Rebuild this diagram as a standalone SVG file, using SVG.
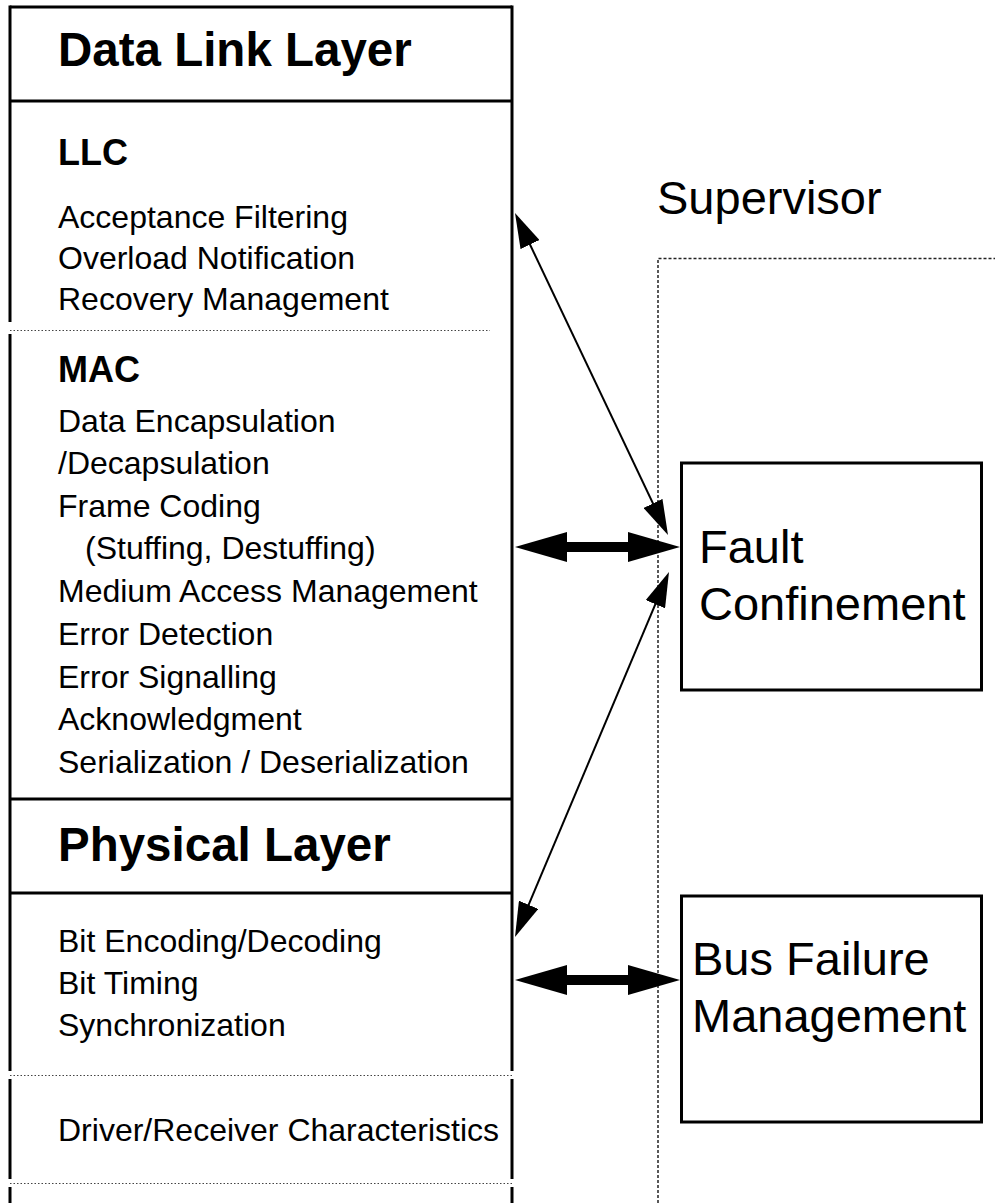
<svg xmlns="http://www.w3.org/2000/svg" width="995" height="1203" viewBox="0 0 995 1203">
<style>
.t{font-family:"Liberation Sans",Arial,sans-serif;font-size:32px;fill:#000}
.h{font-family:"Liberation Sans",Arial,sans-serif;font-size:47.5px;font-weight:bold;fill:#000}
.s{font-family:"Liberation Sans",Arial,sans-serif;font-size:36px;font-weight:bold;fill:#000}
.b{font-family:"Liberation Sans",Arial,sans-serif;font-size:47px;fill:#000}
.solid{stroke:#000;stroke-width:3;fill:none}
.dot{stroke:#444;stroke-width:1;stroke-dasharray:1.5 2;fill:none}
.sup{stroke:#222;stroke-width:1.5;stroke-dasharray:3 2;fill:none}
.thin{stroke:#000;stroke-width:2;fill:none}
.thick{stroke:#000;stroke-width:10;fill:none}
</style>
<defs>
<marker id="ah" viewBox="0 0 35 21" markerWidth="35" markerHeight="21" refX="25" refY="10.5" orient="auto-start-reverse" markerUnits="userSpaceOnUse">
<path d="M0,0 L35,10.5 L0,21 z" fill="#000"/>
</marker>
<marker id="ahb" viewBox="0 0 52 30" markerWidth="52" markerHeight="30" refX="12" refY="15" orient="auto-start-reverse" markerUnits="userSpaceOnUse">
<path d="M0,0 L52,15 L0,30 z" fill="#000"/>
</marker>
</defs>

<g id="layers">
<path class="solid" d="M10,7 H512 M10,101 H512 M10,799 H512 M10,893 H512"/>
<path class="solid" d="M10,5.5 V322 M10,334 V1071 M10,1079 V1179 M10,1187 V1203"/>
<path class="solid" d="M512,5.5 V1071 M512,1079 V1179 M512,1187 V1203"/>
<path class="dot" d="M10,330.5 H490 M10,1075.5 H512 M10,1183.5 H512"/>
</g>

<g id="data-link-layer">
<text class="h" x="58" y="66">Data Link Layer</text>
</g>

<g id="llc">
<text class="s" x="58" y="165">LLC</text>
<text class="t" x="58" y="228">Acceptance Filtering</text>
<text class="t" x="58" y="269">Overload Notification</text>
<text class="t" x="58" y="310">Recovery Management</text>
</g>

<g id="mac">
<text class="s" x="58" y="382">MAC</text>
<text class="t" x="58" y="431.5">Data Encapsulation</text>
<text class="t" x="58" y="474">/Decapsulation</text>
<text class="t" x="58" y="516.5">Frame Coding</text>
<text class="t" x="85" y="559">(Stuffing, Destuffing)</text>
<text class="t" x="58" y="602">Medium Access Management</text>
<text class="t" x="58" y="645">Error Detection</text>
<text class="t" x="58" y="687.5">Error Signalling</text>
<text class="t" x="58" y="730">Acknowledgment</text>
<text class="t" x="58" y="772.5">Serialization / Deserialization</text>
</g>

<g id="physical-layer">
<text class="h" x="58" y="861">Physical Layer</text>
<text class="t" x="58" y="952">Bit Encoding/Decoding</text>
<text class="t" x="58" y="994">Bit Timing</text>
<text class="t" x="58" y="1036">Synchronization</text>
<text class="t" x="58" y="1141">Driver/Receiver Characteristics</text>
</g>

<g id="supervisor">
<text class="b" x="657" y="214">Supervisor</text>
<path class="sup" d="M658,1203 V258.5 H995"/>
</g>

<g id="fault-confinement">
<rect class="solid" x="681.5" y="463" width="300" height="227"/>
<text class="b" x="699" y="563">Fault</text>
<text class="b" x="699" y="620">Confinement</text>
</g>

<g id="bus-failure-management">
<rect class="solid" x="681.5" y="896" width="300" height="226"/>
<text class="b" x="692" y="975">Bus Failure</text>
<text class="b" x="692" y="1032">Management</text>
</g>

<g id="connectors">
<line class="thin" x1="519.3" y1="222" x2="663.7" y2="526" marker-start="url(#ah)" marker-end="url(#ah)"/>
<line class="thin" x1="518.9" y1="927.8" x2="665.1" y2="581.2" marker-start="url(#ah)" marker-end="url(#ah)"/>
<line class="thick" x1="555" y1="547" x2="640" y2="547" marker-start="url(#ahb)" marker-end="url(#ahb)"/>
<line class="thick" x1="555" y1="980" x2="640" y2="980" marker-start="url(#ahb)" marker-end="url(#ahb)"/>
</g>
</svg>
